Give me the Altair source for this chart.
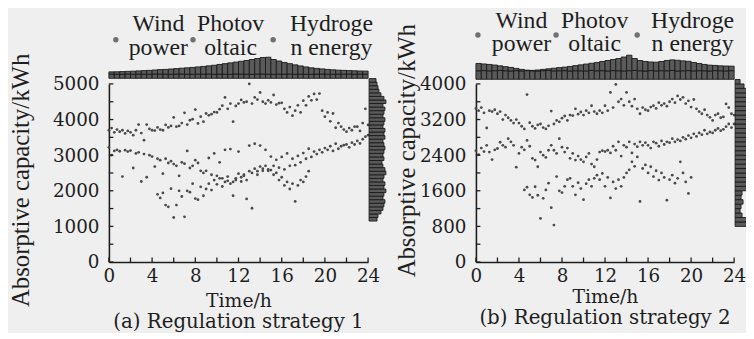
import altair as alt
import numpy as np
import pandas as pd

STEP_H = 0.25   # sampling step of the scatter series (hours)
BIN_H = 0.5     # width of the time histogram bins (hours)
BIN_V = 100     # height of the capacity histogram bins (kWh)

# ---------------- (a) Regulation strategy 1 ----------------
a_hydrogen = [
    3700, 3760, 3640, 3720, 3660, 3700, 3610, 3680, 3640, 3560, 3700, 3860,
    3620, 3420, 3860, 3740, 3700, 3690, 3780, 3720, 3700, 3850, 3780, 3820,
    4060, 3800, 3820, 3900, 4190, 3860, 3980, 4010, 4280, 3890, 4080, 3940,
    4170, 4120, 4150, 4210, 4200, 4290, 4390, 4620, 4300, 4450, 3940, 4380,
    4450, 4550, 4480, 4500, 5000, 4450, 4620, 4560, 4760, 4500, 4450, 4540,
    4480, 4690, 4420, 4460, 4470, 4300, 4200, 4350, 4110, 4250, 4400, 4200,
    4530, 4400, 4650, 4540, 4720, 4560, 4730, 4250, 4080, 4200, 3950, 4170,
    3770, 3900, 3800, 3720, 3660, 3760, 3700, 3800, 3800, 3680, 3900, 4300,
    3850,
]
a_wind = [
    3220, 3000, 3120, 3150, 3110, 2400, 3140, 3100, 3130, 2640, 3050, 3080,
    2260, 3030, 2380, 3000, 2960, 2680, 2900, 2860, 2480, 2900, 2780, 2830,
    2750, 2700, 2420, 2800, 2760, 3120, 2640, 2700, 2860, 2780, 2560, 2500,
    2560, 2920, 2450, 3050, 2420, 2800, 2350, 3150, 2280, 3170, 2250, 2300,
    3100, 2380, 2450, 2300, 3270, 2500, 3320, 2550, 3270, 2620, 3150, 2560,
    2960, 2700, 2870, 2650, 2950, 2600, 3050, 2700, 2900, 2720, 2980, 2800,
    3060, 2900, 3180, 2950, 3100, 3030, 3150, 3080, 3200, 3150, 3250, 3120,
    3320, 3180, 3250, 3280, 3300, 3220, 3350, 3300, 3400, 3330, 3450, 3520,
    3560,
]
a_pv_start = 4.5
a_pv = [
    1900, 1800, 1940, 1600, 1550, 2060, 1250, 1600, 2000, 1840, 1270, 2000,
    1960, 2200, 1780, 1750, 2110, 1860, 2050, 2200, 2020, 2300, 2180, 2350,
    2120, 2250, 2400, 2200, 1860, 2350, 2480, 2260, 2420, 1770, 2550, 1510,
    2620, 2450, 2680, 2560, 2700, 2600, 2580, 2450, 2500, 2300, 2380, 2150,
    2250, 2050, 2200, 1700, 2150, 2300, 2250, 2400, 2550,
]
a_top_hist = [
    6.5, 6.6, 6.8, 7.0, 7.2, 7.5, 7.8, 8.0, 8.4, 8.8,
    9.0, 9.4, 9.8, 10.2, 10.6, 11.0, 11.5, 12.0, 12.6, 13.2,
    14.0, 14.8, 15.6, 16.4, 17.2, 18.0, 19.0, 20.0, 21.0, 21.3,
    19.0, 17.5, 16.0, 14.8, 13.6, 12.5, 11.5, 10.6, 10.0, 9.5,
    9.0, 8.6, 8.2, 8.0, 7.8, 7.6, 7.4, 7.3,
]
a_top_hist_low = [
    4.2, 4.0, 4.1, 4.3, 4.0, 4.2, 4.1, 4.0, 4.3, 4.2,
    4.1, 4.0, 4.2, 4.3, 4.1, 4.0, 4.2, 4.1, 4.3, 4.0,
    4.2, 4.1, 4.0, 4.3, 4.2, 4.1, 4.0, 4.2, 4.3, 4.1,
    4.0, 4.2, 4.1, 4.3, 4.0, 4.2, 4.1, 4.0, 4.2, 4.3,
    4.1, 4.0, 4.2, 4.1, 4.3, 4.0, 4.2, 4.1,
]
a_right_start = 1150
a_right_hist = [
    8, 9, 12, 14, 15, 16, 14, 15, 17, 15,
    16, 14, 15, 17, 16, 14, 13, 15, 14, 15,
    16, 15, 14, 16, 15, 16, 14, 15, 16, 14,
    15, 16, 14, 17, 15, 12, 10, 9, 8, 7,
]

# ---------------- (b) Regulation strategy 2 ----------------
b_hydrogen = [
    3450, 3400, 3470, 3350, 3010, 3400, 3380, 3420, 3330, 3380, 3200, 3300,
    3240, 3180, 3120, 3200, 3120, 3050, 2990, 3760, 3130, 3050, 3000, 3080,
    3100, 3020, 2990, 3060, 3390, 3100, 3180, 3150, 3230, 3280, 3180, 3300,
    3290, 3440, 3320, 3370, 3300, 3400, 3350, 3510, 3380, 3330, 3400, 3350,
    3510, 3400, 3810, 3470, 3990, 3600, 3660, 3520, 3810, 3600, 3500, 3660,
    3440, 3330, 3470, 3420, 3400, 3480, 3510, 3450, 3580, 3520, 3560, 3500,
    3600, 3660, 3580, 3730, 3650, 3700, 3560, 3620, 3480, 3650, 3440, 3380,
    3330, 3420, 3300, 3250, 3180, 3300, 3330, 3240, 3260, 3550, 3470, 3330,
    3300,
]
b_wind = [
    2500, 2410, 2560, 2480, 2620, 2470, 2300, 2520, 2550, 2690, 2620, 2580,
    2770, 2700, 2620, 2130, 2440, 2580, 2520, 2730, 2600, 2330, 2290, 2140,
    2470, 2400, 2350, 2510, 2620, 2510, 2440, 2770, 2580, 2470, 2560, 2330,
    2440, 2290, 2380, 2300, 2250, 2360, 2440, 2200, 2140, 2300, 2470, 2500,
    2480, 2510, 2450, 2600, 2510, 2700, 2380, 2620, 2580, 2700, 2450, 2650,
    2590, 2700, 2620, 2680, 2620, 2560, 2700, 2670, 2600, 2720, 2640, 2700,
    2680, 2770, 2700, 2750, 2720, 2800, 2760, 2840, 2790, 2880, 2820, 2900,
    2860, 2960, 2880, 2920, 2900, 2960, 3000, 2950, 2980, 3040, 3100, 3020,
    3100,
]
b_pv_start = 4.5
b_pv = [
    1620, 1680, 1510, 1450, 1690, 1500, 980, 1430, 1620, 1770, 1220,
    830, 1920, 1600, 1560, 1700, 1850, 1880, 1700, 1510, 1780, 1650,
    1400, 1760, 1850, 1700, 1880, 1950, 1850, 1990, 1700, 1900, 1440,
    1800, 1650, 1850, 1700, 1900, 2000, 2070, 2250, 2150, 2360, 1360,
    2100, 2180, 2000, 2140, 1920, 2050, 1840, 2000, 1900, 1390, 1850,
    1950, 1770, 1880, 2250, 2000, 1800, 1540, 1900,
]
b_top_hist = [
    16.0, 15.5, 15.0, 14.4, 13.6, 12.8, 12.0, 11.0, 10.0, 9.2,
    9.0, 9.4, 10.0, 10.6, 11.2, 11.8, 12.3, 13.0, 13.8, 14.6,
    15.4, 16.2, 17.0, 18.0, 19.0, 20.0, 21.0, 22.5, 24.3, 21.0,
    19.0, 18.0, 17.5, 17.3, 18.0, 19.0, 19.6, 19.2, 18.6, 18.2,
    17.0, 16.0, 15.0, 14.3, 14.0, 13.6, 13.4, 13.3,
]
b_top_hist_low = [
    8.6, 8.8, 8.5, 8.7, 8.9, 8.6, 8.4, 8.7, 8.5, 8.8,
    8.6, 8.4, 8.7, 8.9, 8.5, 8.6, 8.8, 8.4, 8.7, 8.6,
    8.5, 8.9, 8.6, 8.7, 8.4, 8.8, 8.6, 8.5, 8.7, 8.9,
    8.6, 8.4, 8.8, 8.5, 8.7, 8.6, 8.9, 8.4, 8.6, 8.8,
    8.5, 8.7, 8.6, 8.4, 8.8, 8.6, 8.5, 8.7,
]
b_right_start = 800
b_right_hist = [
    14, 16, 7, 5, 6, 8, 6, 7, 14, 16,
    15, 17, 16, 18, 16, 17, 18, 16, 17, 15,
    16, 17, 18, 16, 17, 18, 16, 17, 15, 13,
    12, 9, 5,
]

legend_labels = ["Wind\npower", "Photov\noltaic", "Hydroge\nn energy"]
series_names = ["Wind power", "Photovoltaic", "Hydrogen energy"]
x_labels = [0, 4, 8, 12, 16, 20, 24]
x_minor = [0, 2, 4, 6, 8, 10, 12, 14, 16, 18, 20, 22, 24]
a_y_labels = [0, 1000, 2000, 3000, 4000, 5000]
a_y_minor = [0, 500, 1000, 1500, 2000, 2500, 3000, 3500, 4000, 4500, 5000]
b_y_labels = [0, 800, 1600, 2400, 3200, 4000]
b_y_minor = [0, 400, 800, 1200, 1600, 2000, 2400, 2800, 3200, 3600, 4000]
x_title = "Time/h"
y_title = "Absorptive capacity/kWh"
subtitle_a = "(a) Regulation strategy 1"
subtitle_b = "(b) Regulation strategy 2"

# ---------------- styling ----------------
INK = "#1e1e1e"
PT = "#4a4a4a"
BAR_FILL = "#5a5a5a"
BAR_EDGE = "#1a1a1a"
BG = "#efefef"
NUM_FONT = "DejaVu Serif"
TXT_FONT = "Liberation Serif"
W_PLOT, H_PLOT = 644, 180


def xscale(r):
    return alt.Scale(domain=[0, 24], range=r, nice=False, zero=False)


def yscale(top):
    return alt.Scale(domain=[0, top], range=[H_PLOT, 0], nice=False, zero=False)


def points_df(h, w, pv, pv_start):
    rows = []
    for name, vals, start in [(series_names[2], h, 0.0), (series_names[0], w, 0.0),
                              (series_names[1], pv, pv_start)]:
        for i, v in enumerate(vals):
            rows.append({"series": name, "t": start + i * STEP_H, "v": v})
    return pd.DataFrame(rows)


def panel(h, w, pv, pv_start, top_hist, top_low, right_start, right_hist,
          xr, ymax, ylabels, yminor, y_offset, ytitle_x, ytitle_y, xtitle_y,
          top_base, legend_x, legend_y, dot_x, dot_y, subtitle, sub_y):
    layers = []
    df = points_df(h, w, pv, pv_start)
    xa = alt.Axis(orient="bottom", values=x_labels, title=x_title, ticks=False, tickSize=0,
                  grid=False, domainColor=INK, domainWidth=1.6, labelFont=NUM_FONT,
                  labelFontSize=18.5, labelColor=INK, labelPadding=5, labelFlush=False,
                  labelOverlap=False, format="d", titleFont=NUM_FONT, titleFontSize=19,
                  titleFontWeight="normal", titleColor=INK,
                  titleX=(xr[0] + xr[1]) / 2, titleY=xtitle_y,
                  titleBaseline="alphabetic", titleAlign="center")
    ya = alt.Axis(orient="left", values=ylabels, title=y_title, ticks=False, tickSize=0,
                  grid=False, domainColor=INK, domainWidth=1.6, labelFont=NUM_FONT,
                  labelFontSize=18.5, labelColor=INK, labelPadding=10, labelOverlap=False,
                  format="d", offset=y_offset, titleFont=TXT_FONT, titleFontSize=25,
                  titleFontWeight="normal", titleColor=INK, titleX=ytitle_x,
                  titleY=ytitle_y, titleAngle=270, titleAlign="center",
                  titleBaseline="middle")
    layers.append(
        alt.Chart(df).mark_circle(size=8, color=PT, opacity=1).encode(
            x=alt.X("t:Q", scale=xscale(xr), axis=xa),
            y=alt.Y("v:Q", scale=yscale(ymax), axis=ya),
        )
    )
    # inward ticks
    layers.append(
        alt.Chart(pd.DataFrame({"t": x_minor})).mark_rule(color=INK, strokeWidth=1.3).encode(
            x=alt.X("t:Q", scale=xscale(xr), axis=None),
            y=alt.value(H_PLOT), y2=alt.value(H_PLOT - 4.5),
        )
    )
    layers.append(
        alt.Chart(pd.DataFrame({"v": yminor})).mark_rule(color=INK, strokeWidth=1.3).encode(
            y=alt.Y("v:Q", scale=yscale(ymax), axis=None),
            x=alt.value(xr[0]), x2=alt.value(xr[0] + 4.5),
        )
    )
    # top (time) histogram
    n = len(top_hist)
    dtop = pd.DataFrame({
        "t0": np.arange(n) * BIN_H, "t1": np.arange(n) * BIN_H + BIN_H,
        "lo": top_low, "hi": top_hist, "z": 0.0,
    })
    ys_top = alt.Scale(domain=[0, 30], range=[top_base, top_base - 30], nice=False, zero=False)
    for ycol, y2col in [("lo", "z"), ("hi", "lo")]:
        layers.append(
            alt.Chart(dtop).mark_bar(fill=BAR_FILL, stroke=BAR_EDGE, strokeWidth=0.9).encode(
                x=alt.X("t0:Q", scale=xscale(xr), axis=None), x2="t1:Q",
                y=alt.Y(f"{ycol}:Q", scale=ys_top, axis=None), y2=f"{y2col}:Q",
            )
        )
    # right (capacity) histogram
    m = len(right_hist)
    dr = pd.DataFrame({
        "v0": right_start + np.arange(m) * BIN_V, "v1": right_start + np.arange(m) * BIN_V + BIN_V,
        "w": right_hist, "z": 0.0,
    })
    xs_r = alt.Scale(domain=[0, 20], range=[xr[1] + 1, xr[1] + 21], nice=False, zero=False)
    layers.append(
        alt.Chart(dr).mark_bar(fill=BAR_FILL, stroke=BAR_EDGE, strokeWidth=0.9).encode(
            y=alt.Y("v0:Q", scale=yscale(ymax), axis=None), y2="v1:Q",
            x=alt.X("w:Q", scale=xs_r, axis=None), x2="z:Q",
        )
    )
    # legend
    one = pd.DataFrame({"k": [0]})
    for lab, lx, dx in zip(legend_labels, legend_x, dot_x):
        layers.append(
            alt.Chart(one).mark_text(font=TXT_FONT, fontSize=24, color=INK, align="center",
                                     baseline="alphabetic", lineBreak="\n", lineHeight=24).encode(
                x=alt.value(lx), y=alt.value(legend_y), text=alt.value(lab))
        )
        layers.append(
            alt.Chart(one).mark_circle(size=30, color="#707070", opacity=1).encode(
                x=alt.value(dx), y=alt.value(dot_y))
        )
    # subtitle
    layers.append(
        alt.Chart(one).mark_text(font=NUM_FONT, fontSize=20, color=INK, align="center",
                                 baseline="alphabetic").encode(
            x=alt.value((xr[0] + xr[1]) / 2), y=alt.value(sub_y), text=alt.value(subtitle))
    )
    return layers


layers_a = panel(a_hydrogen, a_wind, a_pv, a_pv_start, a_top_hist, a_top_hist_low,
                 a_right_start, a_right_hist, [0, 262], 5000, a_y_labels, a_y_minor,
                 0, -89, 97, 45, -5.7, [50, 123, 225], -53.7, [7, 85, 166], -44.7,
                 subtitle_a, 247)
layers_b = panel(b_hydrogen, b_wind, b_pv, b_pv_start, b_top_hist, b_top_hist_low,
                 b_right_start, b_right_hist, [371, 632], 4000, b_y_labels, b_y_minor,
                 -371, -70, 67, 41, -4.7, [417, 491, 590], -57, [373, 452, 534], -49.5,
                 subtitle_b, 243)

chart = alt.layer(*layers_a, *layers_b).resolve_scale(
    x="independent", y="independent"
).properties(
    width=W_PLOT, height=H_PLOT, background=BG,
    padding={"left": 102, "top": 75, "right": 0, "bottom": 70},
    autosize=alt.AutoSizeParams(type="none"),
).configure_view(stroke=None)

chart.save("out.html", embed_options={"renderer": "svg", "actions": False})
